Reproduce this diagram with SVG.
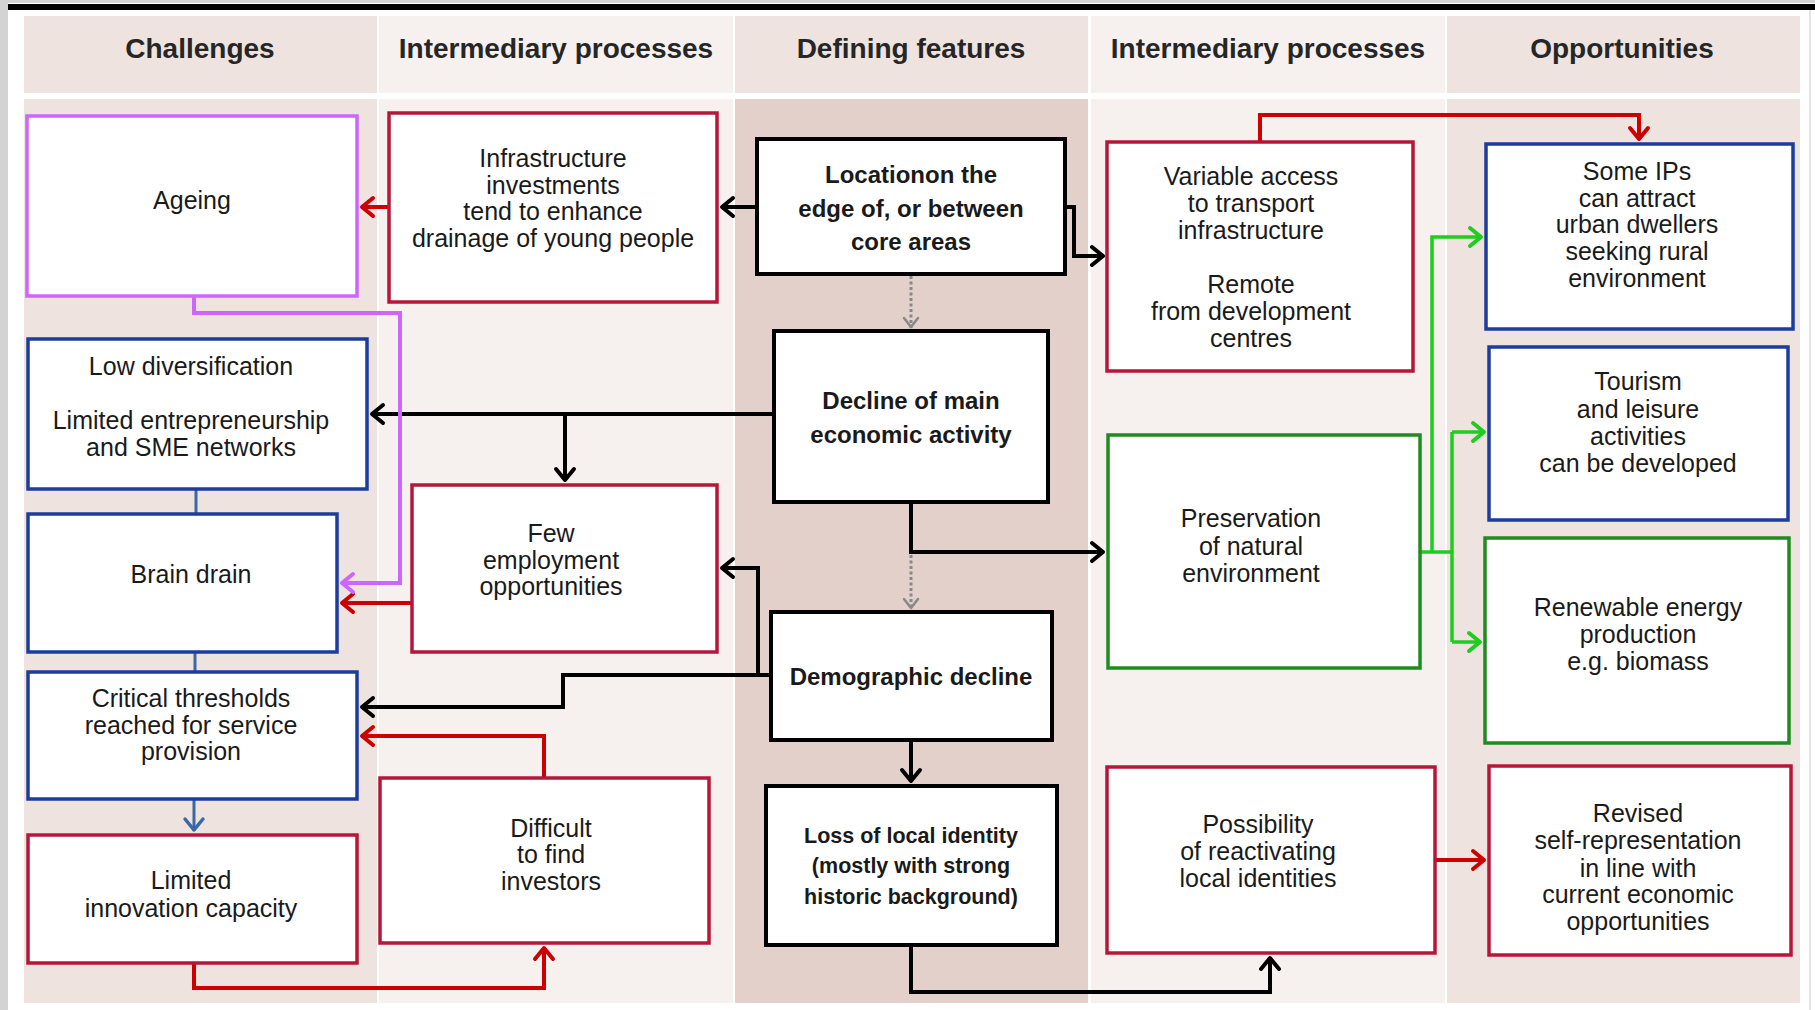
<svg xmlns="http://www.w3.org/2000/svg" width="1815" height="1010" viewBox="0 0 1815 1010">
<style>
.t{font-family:"Liberation Sans",Arial,sans-serif;font-size:25px;text-anchor:middle;fill:#1a1a1a}
.b{font-weight:bold;font-size:24px}
.h{font-weight:bold;font-size:28px;fill:#262626}
.box{fill:#fff;stroke-width:3.5}
.red{stroke:#b5173a}.blue{stroke:#1c3d9e}.green{stroke:#1f8c1f}.purple{stroke:#cc66ff}.blk{stroke:#000;stroke-width:4}
.c{fill:none;stroke-width:4}
.ck{stroke:#000;marker-end:url(#ak)}
.cr{stroke:#cc0000;marker-end:url(#ar)}
.cg{stroke:#1fcc1f;stroke-width:3.5}
.cp{stroke:#cc66ff;marker-end:url(#ap)}
.cb{stroke:#3a69a6;stroke-width:3}
.cd{stroke:#888;stroke-width:3;stroke-dasharray:3 2.5;marker-end:url(#ad)}
</style>
<defs>
<marker id="ak" viewBox="-16 -12 20 24" refX="0" refY="0" markerWidth="20" markerHeight="24" orient="auto" markerUnits="userSpaceOnUse"><path d="M-12,-9 L-1,0 L-12,9" fill="none" stroke="#000" stroke-width="4" stroke-linecap="round" stroke-linejoin="round"/></marker>
<marker id="ar" viewBox="-16 -12 20 24" refX="0" refY="0" markerWidth="20" markerHeight="24" orient="auto" markerUnits="userSpaceOnUse"><path d="M-12,-9 L-1,0 L-12,9" fill="none" stroke="#cc0000" stroke-width="4" stroke-linecap="round" stroke-linejoin="round"/></marker>
<marker id="ag" viewBox="-16 -12 20 24" refX="0" refY="0" markerWidth="20" markerHeight="24" orient="auto" markerUnits="userSpaceOnUse"><path d="M-12,-9 L-1,0 L-12,9" fill="none" stroke="#1fcc1f" stroke-width="4" stroke-linecap="round" stroke-linejoin="round"/></marker>
<marker id="ap" viewBox="-16 -12 20 24" refX="0" refY="0" markerWidth="20" markerHeight="24" orient="auto" markerUnits="userSpaceOnUse"><path d="M-12,-9 L-1,0 L-12,9" fill="none" stroke="#cc66ff" stroke-width="4" stroke-linecap="round" stroke-linejoin="round"/></marker>
<marker id="ab" viewBox="-16 -12 20 24" refX="0" refY="0" markerWidth="20" markerHeight="24" orient="auto" markerUnits="userSpaceOnUse"><path d="M-12,-9 L-1,0 L-12,9" fill="none" stroke="#3a69a6" stroke-width="3.5" stroke-linecap="round" stroke-linejoin="round"/></marker>
<marker id="ad" viewBox="-14 -10 16 20" refX="0" refY="0" markerWidth="16" markerHeight="20" orient="auto" markerUnits="userSpaceOnUse"><path d="M-10,-7 L-1,0 L-10,7" fill="none" stroke="#888" stroke-width="2.5" stroke-linecap="round" stroke-linejoin="round"/></marker>
</defs>

<g id="background">
<rect x="0" y="0" width="1815" height="1010" fill="#fff"/>
<rect x="0" y="0" width="8" height="1010" fill="#d3d3d3"/>
<rect x="8" y="0" width="1807" height="3" fill="#d3d3d3"/>
<rect x="8" y="4" width="1807" height="6" fill="#000"/>
<rect x="1809" y="10" width="2" height="1000" fill="#e4e4e4"/>
<rect x="24" y="16" width="353" height="77" fill="#eee3df"/>
<rect x="379" y="16" width="354" height="77" fill="#f6f1ef"/>
<rect x="735" y="16" width="353" height="77" fill="#eee3df"/>
<rect x="1091" y="16" width="354" height="77" fill="#f6f1ef"/>
<rect x="1447" y="16" width="353" height="77" fill="#eee3df"/>
<rect x="24" y="99" width="353" height="904" fill="#eee3df"/>
<rect x="379" y="99" width="354" height="904" fill="#f6f1ef"/>
<rect x="735" y="99" width="353" height="904" fill="#e3d0ca"/>
<rect x="1091" y="99" width="354" height="904" fill="#f6f1ef"/>
<rect x="1447" y="99" width="353" height="904" fill="#eee3df"/>
<text class="t h" x="200" y="58">Challenges</text>
<text class="t h" x="556" y="58">Intermediary processes</text>
<text class="t h" x="911" y="58">Defining features</text>
<text class="t h" x="1268" y="58">Intermediary processes</text>
<text class="t h" x="1622" y="58">Opportunities</text>
</g>

<g id="connectors">
<path class="c ck" d="M757,207 H721"/>
<path class="c ck" d="M1065,207 H1074 V256 H1104"/>
<path class="c ck" d="M774,414 H371"/>
<path class="c ck" d="M565,414 V481"/>
<path class="c ck" d="M911,502 V552 H1104"/>
<path class="c ck" d="M770,675 H758 V568 H721"/>
<path class="c ck" d="M758,675 H563 V707 H361"/>
<path class="c ck" d="M911,740 V782"/>
<path class="c ck" d="M911,945 V992 H1270 V957"/>
<path class="c cd" d="M911,276 V328"/>
<path class="c cd" d="M911,555 V609"/>
<path class="c cr" d="M389,207 H361"/>
<path class="c cr" d="M412,603 H341"/>
<path class="c cr" d="M1260,142 V115 H1639 V140"/>
<path class="c cr" d="M544,778 V736 H361"/>
<path class="c cr" d="M194,963 V988 H544 V947"/>
<path class="c cr" d="M1435,860 H1485"/>
<path class="c cp" d="M194,296 V313 H400 V583 H341"/>
<path class="c cb" d="M196,489 V514"/>
<path class="c cb" d="M195,652 V672"/>
<path class="c cb" d="M194,799 V831" marker-end="url(#ab)"/>
<path class="c cg" d="M1420,552 H1452"/>
<path class="c cg" d="M1432,552 V237 H1482" marker-end="url(#ag)"/>
<path class="c cg" d="M1452,432 V642"/>
<path class="c cg" d="M1452,432 H1485" marker-end="url(#ag)"/>
<path class="c cg" d="M1452,642 H1481" marker-end="url(#ag)"/>
</g>

<g id="ageing"><rect class="box purple" x="27" y="116" width="330" height="180"/>
<text class="t" x="192" y="209">Ageing</text></g>

<g id="infrastructure"><rect class="box red" x="389" y="113" width="328" height="189"/>
<text class="t" x="553" y="167">Infrastructure</text><text class="t" x="553" y="194">investments</text><text class="t" x="553" y="220">tend to enhance</text><text class="t" x="553" y="247">drainage of young people</text></g>

<g id="location"><rect class="box blk" x="757" y="139" width="308" height="135"/>
<text class="t b" x="911" y="183">Locationon the</text><text class="t b" x="911" y="217">edge of, or between</text><text class="t b" x="911" y="250">core areas</text></g>

<g id="variable-access"><rect class="box red" x="1107" y="142" width="306" height="229"/>
<text class="t" x="1251" y="185">Variable access</text><text class="t" x="1251" y="212">to transport</text><text class="t" x="1251" y="239">infrastructure</text>
<text class="t" x="1251" y="293">Remote</text><text class="t" x="1251" y="320">from development</text><text class="t" x="1251" y="347">centres</text></g>

<g id="some-ips"><rect class="box blue" x="1486" y="144" width="307" height="185"/>
<text class="t" x="1637" y="180">Some IPs</text><text class="t" x="1637" y="207">can attract</text><text class="t" x="1637" y="233">urban dwellers</text><text class="t" x="1637" y="260">seeking rural</text><text class="t" x="1637" y="287">environment</text></g>

<g id="low-diversification"><rect class="box blue" x="28" y="339" width="339" height="150"/>
<text class="t" x="191" y="375">Low diversification</text><text class="t" x="191" y="429">Limited entrepreneurship</text><text class="t" x="191" y="456">and SME networks</text></g>

<g id="decline"><rect class="box blk" x="774" y="331" width="274" height="171"/>
<text class="t b" x="911" y="409">Decline of main</text><text class="t b" x="911" y="443">economic activity</text></g>

<g id="tourism"><rect class="box blue" x="1489" y="347" width="299" height="173"/>
<text class="t" x="1638" y="390">Tourism</text><text class="t" x="1638" y="418">and leisure</text><text class="t" x="1638" y="445">activities</text><text class="t" x="1638" y="472">can be developed</text></g>

<g id="brain-drain"><rect class="box blue" x="28" y="514" width="309" height="138"/>
<text class="t" x="191" y="583">Brain drain</text></g>

<g id="few-employment"><rect class="box red" x="412" y="485" width="305" height="167"/>
<text class="t" x="551" y="542">Few</text><text class="t" x="551" y="569">employment</text><text class="t" x="551" y="595">opportunities</text></g>

<g id="preservation"><rect class="box green" x="1108" y="435" width="312" height="233"/>
<text class="t" x="1251" y="527">Preservation</text><text class="t" x="1251" y="555">of natural</text><text class="t" x="1251" y="582">environment</text></g>

<g id="renewable"><rect class="box green" x="1485" y="538" width="304" height="205"/>
<text class="t" x="1638" y="616">Renewable energy</text><text class="t" x="1638" y="643">production</text><text class="t" x="1638" y="670">e.g. biomass</text></g>

<g id="demographic"><rect class="box blk" x="771" y="612" width="281" height="128"/>
<text class="t b" x="911" y="685">Demographic decline</text></g>

<g id="critical"><rect class="box blue" x="28" y="672" width="329" height="127"/>
<text class="t" x="191" y="707">Critical thresholds</text><text class="t" x="191" y="734">reached for service</text><text class="t" x="191" y="760">provision</text></g>

<g id="limited-innovation"><rect class="box red" x="28" y="835" width="329" height="128"/>
<text class="t" x="191" y="889">Limited</text><text class="t" x="191" y="917">innovation capacity</text></g>

<g id="difficult"><rect class="box red" x="380" y="778" width="329" height="165"/>
<text class="t" x="551" y="837">Difficult</text><text class="t" x="551" y="863">to find</text><text class="t" x="551" y="890">investors</text></g>

<g id="loss-identity"><rect class="box blk" x="766" y="786" width="291" height="159"/>
<text class="t b" x="911" y="843" style="font-size:21.5px">Loss of local identity</text><text class="t b" x="911" y="873" style="font-size:21.5px">(mostly with strong</text><text class="t b" x="911" y="904" style="font-size:21.5px">historic background)</text></g>

<g id="possibility"><rect class="box red" x="1107" y="767" width="328" height="186"/>
<text class="t" x="1258" y="833">Possibility</text><text class="t" x="1258" y="860">of reactivating</text><text class="t" x="1258" y="887">local identities</text></g>

<g id="revised"><rect class="box red" x="1489" y="766" width="302" height="189"/>
<text class="t" x="1638" y="822">Revised</text><text class="t" x="1638" y="849">self-representation</text><text class="t" x="1638" y="877">in line with</text><text class="t" x="1638" y="903">current economic</text><text class="t" x="1638" y="930">opportunities</text></g>
</svg>
